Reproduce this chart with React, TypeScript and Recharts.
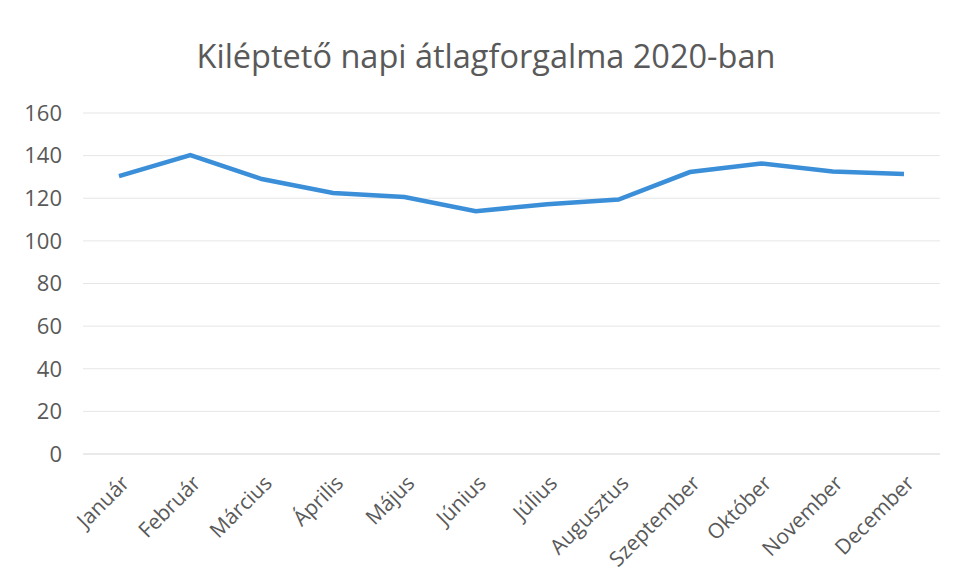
import React from "react";
import { LineChart, Line, XAxis, YAxis, CartesianGrid } from "recharts";

const months = [
  "Január", "Február", "Március", "Április", "Május", "Június",
  "Július", "Augusztus", "Szeptember", "Október", "November", "December",
];
const traffic = [130.4, 140.2, 129.0, 122.5, 120.6, 113.9, 117.2, 119.4, 132.3, 136.3, 132.5, 131.4];
const yTicks = [0, 20, 40, 60, 80, 100, 120, 140, 160];
const title = "Kiléptető napi átlagforgalma 2020-ban";

const data = months.map((m, i) => ({ month: m, value: traffic[i] }));

const FONT = "'Open Sans', sans-serif";
const TEXT = "#595959";

const XTick = (props: any) => {
  const { x, y, payload } = props;
  return (
    <g transform={`translate(${x + 3},${y + 14})`}>
      <text
        x={0}
        y={0}
        dy={12}
        textAnchor="end"
        transform="rotate(-45)"
        fill={TEXT}
        fontSize={21}
        fontFamily={FONT}
      >
        {payload.value}
      </text>
    </g>
  );
};

export default function App() {
  return (
    <div style={{ position: "absolute", left: 0, top: 0, width: 954, height: 584, background: "#fff" }}>
      <div
        style={{
          position: "absolute",
          left: 0,
          top: 34,
          width: 972,
          textAlign: "center",
          fontFamily: FONT,
          fontSize: 32.5,
          color: TEXT,
          lineHeight: "44px",
        }}
      >
        {title}
      </div>
      <LineChart
        width={954}
        height={584}
        data={data}
        margin={{ top: 113, right: 14, bottom: 10, left: 0 }}
      >
        <CartesianGrid vertical={false} stroke="#e6e6e6" strokeWidth={1} />
        <XAxis
          dataKey="month"
          interval={0}
          height={120}
          padding={{ left: 36, right: 36 }}
          axisLine={{ stroke: "#e0e0e0" }}
          tickLine={false}
          tick={<XTick />}
        />
        <YAxis
          domain={[0, 160]}
          ticks={yTicks}
          width={83}
          axisLine={false}
          tickLine={false}
          tickMargin={15}
          tick={{ fill: TEXT, fontSize: 22, fontFamily: FONT }}
        />
        <Line
          type="linear"
          dataKey="value"
          stroke="#3a8fd8"
          strokeWidth={4.5}
          dot={false}
          isAnimationActive={false}
        />
      </LineChart>
    </div>
  );
}
